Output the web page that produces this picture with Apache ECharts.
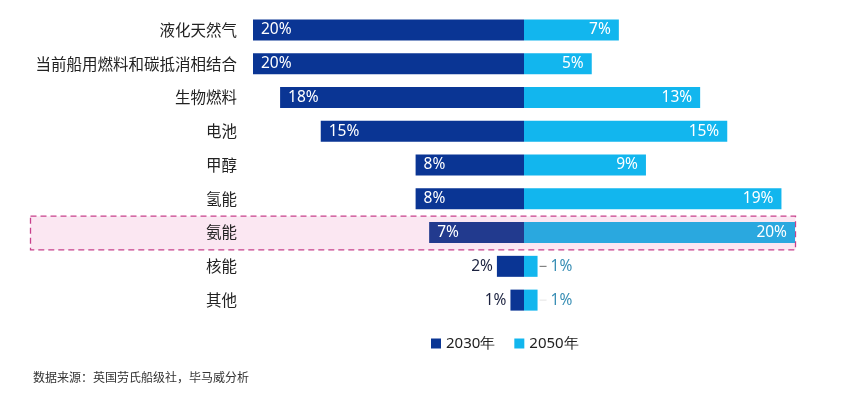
<!DOCTYPE html>
<html><head><meta charset="utf-8">
<script src="https://cdn.jsdelivr.net/npm/echarts@6/dist/echarts.min.js"></script>
<style>html,body{margin:0;padding:0;background:#fff}#c{width:864px;height:395px}</style>
</head><body><div id="c"></div>
<script>
const categories = ['液化天然气','当前船用燃料和碳抵消相结合','生物燃料','电池','甲醇','氢能','氨能','核能','其他'];
const share2030 = [20,20,18,15,8,8,7,2,1];
const share2050 = [7,5,13,15,9,19,20,1,1];
const seriesNames = ['2030年','2050年'];
const highlightCat = '氨能';
const outsideCats = ['核能','其他'];
const sourceText = '数据来源：英国劳氏船级社，毕马威分析';

const DARK = '#0a3594', LIGHT = '#12b6ee';
const DARK_H = '#223a8e', LIGHT_H = '#2aa8df';
const numFont = '"Noto Sans","Open Sans",sans-serif';
const cjkFont = '"Noto Sans CJK SC","Noto Sans",sans-serif';

const chart = echarts.init(document.getElementById('c'));

const d2030 = categories.map((c,i)=>{
  const o = {value: -share2030[i]};
  if (c === highlightCat) o.itemStyle = {color: DARK_H};
  if (outsideCats.includes(c)) o.label = {position:'left', color:'#1c2340', distance:4};
  return o;
});
const d2050 = categories.map((c,i)=>{
  const o = {value: share2050[i]};
  if (c === highlightCat) o.itemStyle = {color: LIGHT_H};
  if (outsideCats.includes(c)) o.label = {position:'right', color:'#3a8fb5', distance:2,
    formatter: p => '{d|}' + ' ' + Math.abs(p.value) + '%',
    rich:{d:{width:7,height:1,backgroundColor: c==='核能' ? '#6a6a6a' : '#e4e4e4'}}};
  return o;
});

function graphics(rect){
  const g = [{type:'text',left:33,top:371,style:{text:sourceText,fontSize:12,fill:'#333',fontFamily:cjkFont}}];
  if (rect) g.push(rect);
  return g;
}

chart.setOption({
  animation:false,
  grid:{left:253,right:69,top:13,bottom:78},
  xAxis:{type:'value',min:-20,max:20,show:false},
  yAxis:{type:'category',data:categories,inverse:true,z:5,
    axisLine:{show:false},axisTick:{show:false},splitLine:{show:false},
    axisLabel:{margin:16,fontSize:15.5,color:'#222',fontFamily:cjkFont}},
  legend:{data:seriesNames,top:331,itemWidth:10,itemHeight:10,itemGap:19,
    icon:'rect',textStyle:{fontSize:15,color:'#222',fontFamily:numFont},
    left:426},
  series:[
    {name:seriesNames[0],type:'bar',data:d2030,barWidth:21,barGap:'-100%',
     itemStyle:{color:DARK},z:3,
     label:{show:true,position:'insideLeft',distance:8,color:'#fff',fontSize:15.5,fontFamily:numFont,
       formatter:p=>Math.abs(p.value)+'%'}},
    {name:seriesNames[1],type:'bar',data:d2050,barWidth:21,
     itemStyle:{color:LIGHT},z:3,
     label:{show:true,position:'insideRight',distance:8,color:'#fff',fontSize:15.5,fontFamily:numFont,
       formatter:p=>Math.abs(p.value)+'%'}}
  ],
  graphic:graphics(null)
});

// highlight box computed from the axis scale
const idx = categories.indexOf(highlightCat);
const yc = chart.convertToPixel({yAxisIndex:0}, idx);
const band = chart.convertToPixel({yAxisIndex:0}, 1) - chart.convertToPixel({yAxisIndex:0}, 0);
const xr = chart.convertToPixel({xAxisIndex:0}, 20);
chart.setOption({graphic:graphics(
  {type:'rect',z:-10,shape:{x:30.5,y:yc-band/2+0.5,width:xr-30,height:band},
   style:{fill:'#fbe7f2',stroke:'#c8408c',lineWidth:1.3,lineDash:[6,4]}}
)}, {replaceMerge:['graphic']});
</script></body></html>
